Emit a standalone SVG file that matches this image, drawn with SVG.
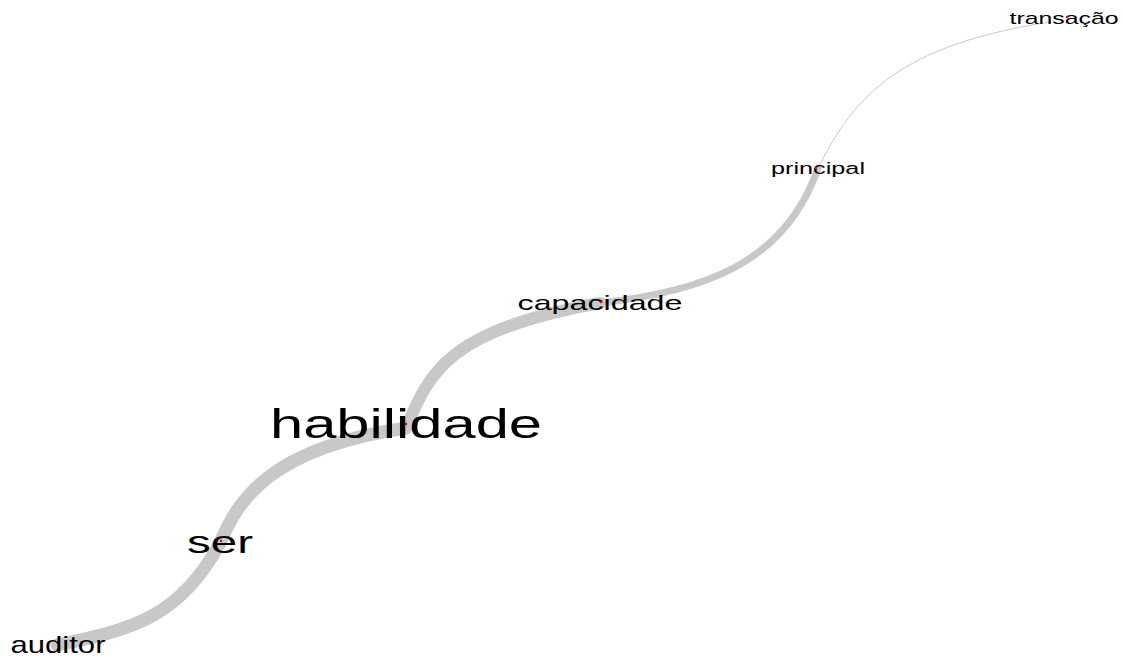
<svg xmlns="http://www.w3.org/2000/svg" width="1123" height="657" viewBox="0 0 1123 657">
  <style>
    .edge { fill: none; stroke: #c8c8c8; stroke-linecap: round; }
    .lbl { font-family: "Liberation Sans", Arial, sans-serif; fill: #000; text-anchor: middle; }
    .pt { fill: #e00000; }
  </style>
  <rect width="1123" height="657" fill="#fff"/>

  <!-- weighted connectors -->
  <g id="edges">
    <path class="edge" stroke-width="13" d="M57,645 C130,630 180,618 220,543"/>
    <path class="edge" stroke-width="13" d="M220,543 C238,500 270,448 406,428"/>
    <path class="edge" stroke-width="12" d="M406,428 C430,370 450,330 600,303"/>
    <path class="edge" stroke-width="7" d="M600,303 C700,292 785,265 818,168"/>
    <path class="edge" stroke-width="1" stroke="#b4b4b4" d="M818,168 C855,95 900,45 1050,22"/>
  </g>

  <!-- word nodes -->
  <g id="node-auditor">
    <text class="lbl" x="58" y="653" font-size="24" textLength="95" lengthAdjust="spacingAndGlyphs">auditor</text>
  </g>
  <g id="node-ser">
    <text class="lbl" x="220" y="553" font-size="32" textLength="66" lengthAdjust="spacingAndGlyphs">ser</text>
    <circle class="pt" cx="221" cy="541" r="1.2"/>
  </g>
  <g id="node-habilidade">
    <text class="lbl" x="406" y="438" font-size="40" textLength="272" lengthAdjust="spacingAndGlyphs">habilidade</text>
    <circle class="pt" cx="406" cy="424" r="1.2"/>
  </g>
  <g id="node-capacidade">
    <text class="lbl" x="600" y="310" font-size="21" textLength="165" lengthAdjust="spacingAndGlyphs">capacidade</text>
    <circle class="pt" cx="601" cy="302" r="1.2"/>
  </g>
  <g id="node-principal">
    <text class="lbl" x="818" y="174" font-size="16" textLength="94" lengthAdjust="spacingAndGlyphs">principal</text>
    <circle class="pt" cx="816" cy="168" r="1.2"/>
  </g>
  <g id="node-transacao">
    <text class="lbl" x="1064" y="24" font-size="17" textLength="109" lengthAdjust="spacingAndGlyphs">transação</text>
    <circle class="pt" cx="1067" cy="17" r="1.2"/>
  </g>
</svg>
